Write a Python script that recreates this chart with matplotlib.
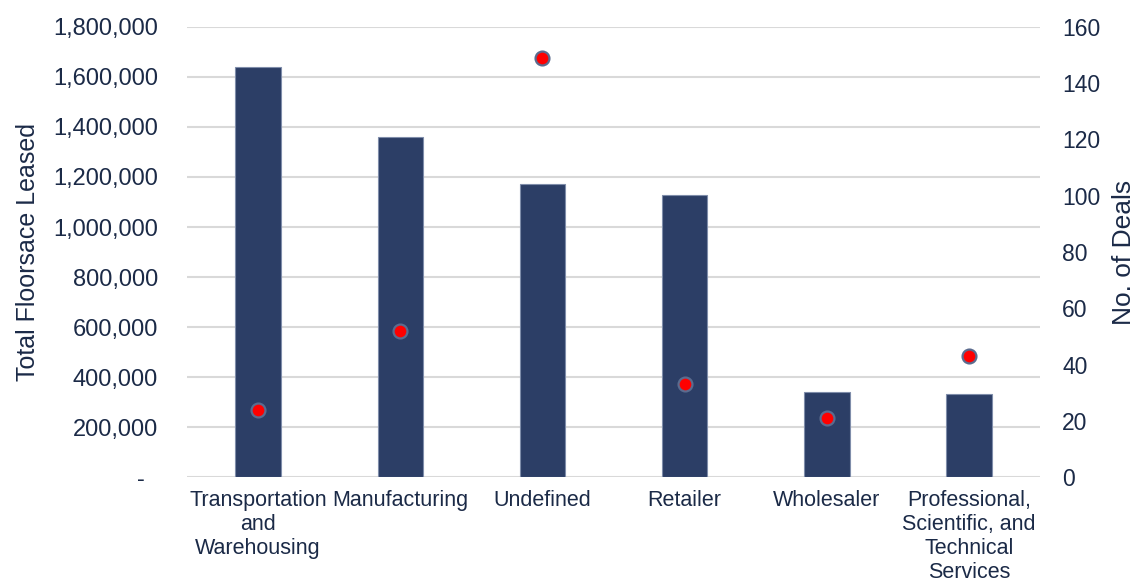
import numpy as np
import matplotlib
matplotlib.use("Agg")
import matplotlib.pyplot as plt
from matplotlib.ticker import FuncFormatter

plt.rcParams['font.family'] = ['Liberation Sans', 'DejaVu Sans']

# data
categories = ["Transportation\nand\nWarehousing", "Manufacturing", "Undefined",
              "Retailer", "Wholesaler", "Professional,\nScientific, and\nTechnical\nServices"]
floorspace = [1640000, 1360000, 1172000, 1128000, 340000, 333000]
deals = [24, 52, 149, 33, 21, 43]

text_col = '#1B2A47'
bar_col = '#2C3E66'

fig = plt.figure(figsize=(11.39, 5.83), dpi=100)
ax1 = fig.add_axes([0.1642, 0.1818, 0.7489, 0.7719])
ax2 = ax1.twinx()

x = np.arange(len(categories))
ax1.bar(x, floorspace, width=0.32, color=bar_col, edgecolor='#7F8DAA', linewidth=0.8, zorder=3)
ax2.plot(x, deals, 'o', color='#FF0000', markersize=10, markeredgecolor='#5B6B8E',
         markeredgewidth=1.6, linestyle='none', zorder=4)

ax1.set_xlim(-0.5, len(categories) - 0.5)
ax1.set_ylim(0, 1800000)
ax1.set_yticks(np.arange(0, 1800001, 200000))
ax2.set_ylim(0, 160)
ax2.set_yticks(np.arange(0, 161, 20))

def fmt(v, pos):
    if v == 0:
        return "-  "
    return f"{int(v):,}"
ax1.yaxis.set_major_formatter(FuncFormatter(fmt))

ax1.grid(axis='y', color='#D9D9D9', linewidth=1.5, zorder=0)
ax1.set_axisbelow(True)

for a in (ax1, ax2):
    for s in a.spines.values():
        s.set_visible(False)

ax1.set_xticks(x)
ax1.set_xticklabels(categories, fontsize=15.5, color=text_col, linespacing=1.2)
ax1.tick_params(axis='x', length=0, pad=9)
ax1.tick_params(axis='y', length=0, pad=21, labelsize=17, labelcolor=text_col)
ax2.tick_params(axis='y', length=0, pad=16, labelsize=16.5, labelcolor=text_col)

ax1.set_ylabel("Total Floorsace Leased", fontsize=18, color=text_col, labelpad=9)
ax2.set_ylabel("No. of Deals", fontsize=19, color=text_col, labelpad=8)

fig.savefig("out.png", dpi=100)
